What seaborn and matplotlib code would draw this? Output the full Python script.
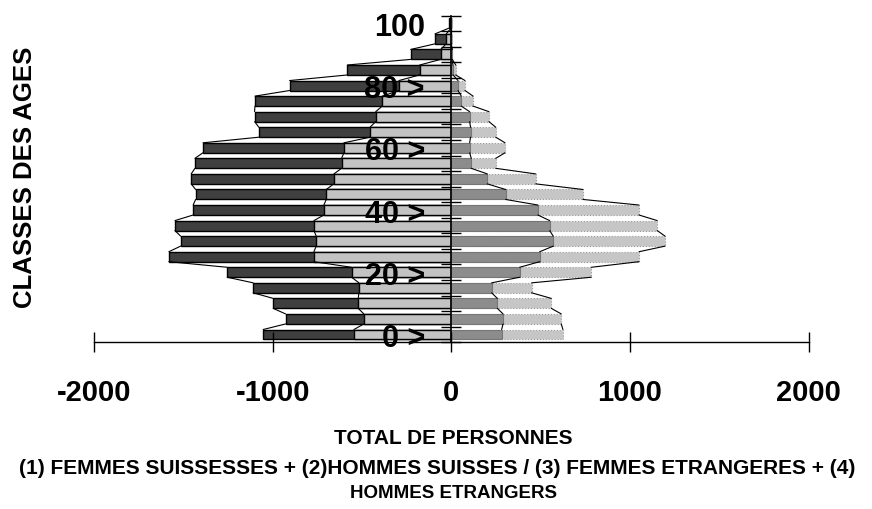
import numpy as np
import pandas as pd
import matplotlib
matplotlib.use("Agg")
import matplotlib.pyplot as plt
import seaborn as sns

# Data
ages = [0, 5, 10, 15, 20, 25, 30, 35, 40, 45, 50, 55, 60, 65, 70, 75, 80, 85, 90, 95, 100]
age_labels = ["0 >", "20 >", "40 >", "60 >", "80 >", "100"]
femmes_suisses = [545, 489, 521, 517, 558, 769, 756, 769, 713, 700, 657, 614, 601, 455, 423, 386, 293, 177, 59, 28, 2]
hommes_suisses = [508, 438, 476, 592, 696, 812, 759, 778, 732, 731, 799, 821, 789, 622, 678, 713, 612, 405, 168, 63, 13]
femmes_etrangeres = [282, 290, 258, 226, 383, 495, 571, 551, 485, 304, 202, 112, 103, 108, 103, 56, 38, 10, 3, 0, 0]
hommes_etrangers = [343, 326, 302, 224, 401, 556, 626, 602, 566, 433, 271, 137, 198, 141, 108, 66, 39, 15, 3, 0, 0]

df = pd.DataFrame({
    "age": ages,
    "fs": femmes_suisses,
    "hs": hommes_suisses,
    "fe": femmes_etrangeres,
    "he": hommes_etrangers,
})
# stacked ends: Swiss on the left (negative), foreigners on the right
df["left_inner"] = -df["fs"]
df["left_outer"] = -(df["fs"] + df["hs"])
df["right_inner"] = df["fe"]
df["right_outer"] = df["fe"] + df["he"]

sns.set_style("white")
plt.rcParams["font.family"] = ["Liberation Sans", "DejaVu Sans"]
plt.rcParams["font.weight"] = "bold"
for k in ["text.color", "axes.labelcolor", "xtick.color", "ytick.color", "axes.edgecolor"]:
    plt.rcParams[k] = "black"

fig = plt.figure(figsize=(8.72, 5.10), dpi=100)
ax = fig.add_axes([0.1078, 0.3269, 0.8194, 0.6407])

bar_w = 0.64
common = dict(y="age", orient="h", native_scale=True, width=bar_w, ax=ax)

# outer layers first, inner layers drawn on top
sns.barplot(data=df, x="left_outer", color="#3f3f3f", edgecolor="black", linewidth=1.0, saturation=1, **common)
sns.barplot(data=df, x="left_inner", color="#c3c3c3", edgecolor="black", linewidth=1.0, saturation=1, **common)
sns.barplot(data=df, x="right_outer", color="#c6c6c6", edgecolor="#9a9a9a", linewidth=0.8, linestyle=":", saturation=1, **common)
sns.barplot(data=df, x="right_inner", color="#8c8c8c", edgecolor="#767676", linewidth=0.8, saturation=1, **common)

# series lines joining bar ends
h = bar_w * 5 / 2
for col in ["left_inner", "left_outer", "right_inner", "right_outer"]:
    v = df[col].to_numpy()
    a = df["age"].to_numpy()
    for i in range(len(v) - 1):
        ax.plot([v[i], v[i + 1]], [a[i] + h, a[i + 1] - h], color="black", lw=0.8, zorder=1.8)

ax.set_xlim(-2000, 2000)
ax.set_ylim(-2.5, 102.5)
ax.set_axisbelow(False)

# axes: y axis sits at x = 0
sns.despine(ax=ax, top=True, right=True)
ax.spines["left"].set_position(("data", 0))
ax.spines["left"].set_linewidth(1.2)
ax.spines["bottom"].set_linewidth(1.0)

ax.set_xticks([-2000, -1000, 0, 1000, 2000])
ax.set_xticklabels(["-2000", "-1000", "0", "1000", "2000"], fontsize=21, fontweight="bold")
ax.tick_params(axis="x", bottom=True, direction="inout", length=14, width=1, pad=19)

ax.set_yticks([0, 20, 40, 60, 80, 100])
ax.set_yticklabels(age_labels, fontsize=22, fontweight="bold")
ax.set_yticks(np.arange(-2.5, 103, 5), minor=True)
ax.tick_params(axis="y", which="major", left=True, length=0, pad=19)
ax.tick_params(axis="y", which="minor", left=True, direction="inout", length=14, width=1)

ax.set_xlabel("")
ax.set_ylabel("")

fig.text(0.029, 0.653, "CLASSES DES AGES", rotation=90, ha="center", va="center",
         fontsize=18.5, fontweight="bold")
fig.text(0.52, 0.141, "TOTAL DE PERSONNES", ha="center", va="center", fontsize=15, fontweight="bold")
fig.text(0.501, 0.082, "(1) FEMMES SUISSESSES + (2)HOMMES SUISSES / (3) FEMMES ETRANGERES + (4)",
         ha="center", va="center", fontsize=15, fontweight="bold")
fig.text(0.52, 0.033, "HOMMES ETRANGERS", ha="center", va="center", fontsize=13.5, fontweight="bold")

fig.savefig("out.png", dpi=100)
